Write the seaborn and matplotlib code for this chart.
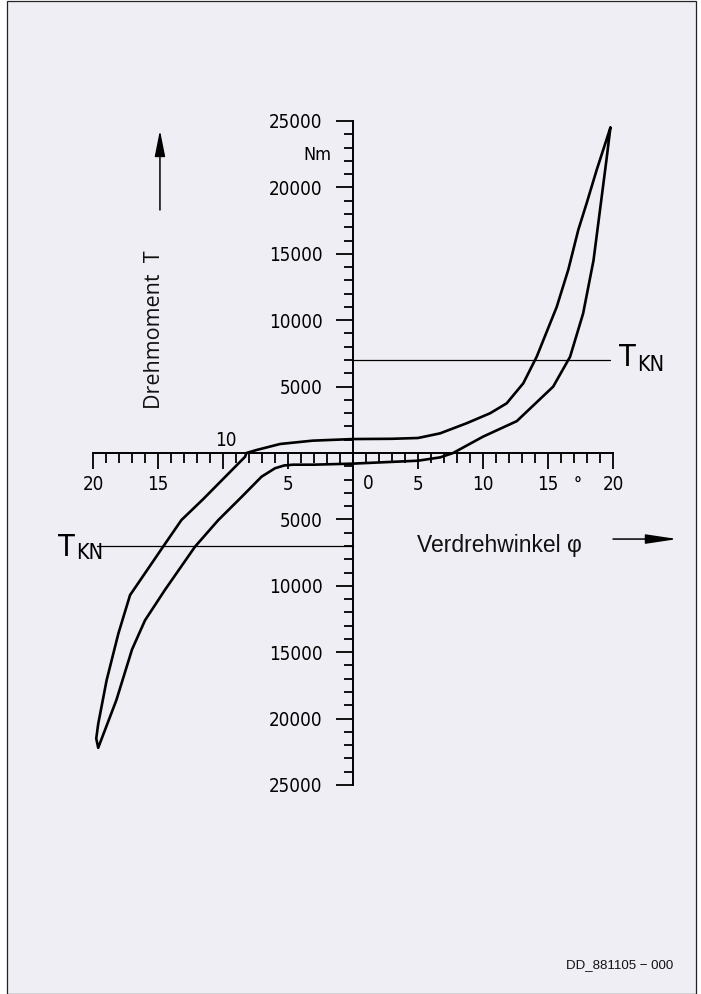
import numpy as np
import matplotlib
matplotlib.use("Agg")
import matplotlib.pyplot as plt
import seaborn as sns
import pandas as pd
from matplotlib.patches import Rectangle
from matplotlib.ticker import FixedLocator

# ---------------- data ----------------
# upper branch: from positive peak down to negative tip (angle in deg, torque in Nm)
upper_angle = [19.8, 18.74, 17.97, 17.33, 16.56, 15.67, 14.13, 13.1, 11.82, 10.54, 8.74, 6.7,
               5.0, 3.0, 0.0, -3.1, -5.6, -7.4, -8.2, -8.3, -11.5, -13.2, -14.5, -17.15,
               -18.05, -18.95, -19.6, -19.75, -19.6]
upper_torque = [24500, 21300, 18800, 16800, 13800, 11000, 7250, 5250, 3740, 2990, 2240, 1480,
                1130, 1070, 1050, 930, 680, 230, 0, -280, -3450, -5050, -6900, -10700,
                -13600, -17100, -20400, -21500, -22200]
# lower branch: from negative tip back up to positive peak
lower_angle = [-19.6, -18.2, -17.0, -16.0, -14.46, -12.15, -10.36, -8.56, -7.03, -6.0, -5.3,
               -4.6, -3.05, 0.0, 5.0, 6.7, 7.7, 10.0, 12.6, 15.4, 16.7, 17.7, 18.5, 19.0, 19.5, 19.8]
lower_torque = [-22200, -18600, -14800, -12600, -10300, -7050, -5050, -3300, -1780, -1150, -940,
                -880, -880, -800, -580, -330, 0, 1230, 2400, 5000, 7250, 10500, 14500, 18300, 22100, 24500]

T_KN = 7000

x_major = [-20, -15, -10, -5, 0, 5, 10, 15, 20]
x_labels = ["20", "15", "", "5", "", "5", "10", "15", "20"]
y_major = [-25000, -20000, -15000, -10000, -5000, 5000, 10000, 15000, 20000, 25000]
y_labels = ["25000", "20000", "15000", "10000", "5000", "5000", "10000", "15000", "20000", "25000"]
x_minor = list(range(-20, 21))
y_minor = list(range(-25000, 25001, 1000))

df = pd.DataFrame({
    "angle": upper_angle + lower_angle,
    "torque": upper_torque + lower_torque,
})

# ---------------- figure ----------------
sns.set_theme(style="white")
plt.rcParams["font.family"] = ["DejaVu Sans"]
plt.rcParams["font.stretch"] = "condensed"

W, H = 701, 994
fig = plt.figure(figsize=(W / 100, H / 100), dpi=100)
fig.patch.set_facecolor("white")
fig.patches.append(Rectangle((6.5 / W, 0.5 / H), (695.5 - 6.5) / W, (993.5 - 0.5) / H,
                             transform=fig.transFigure, facecolor="#EEEEF4",
                             edgecolor="#222222", linewidth=0.9, zorder=-5))

ax = fig.add_axes([0, 0, 1, 1])
ax.set_facecolor("none")
ax.set_zorder(2)

# pixel mapping: x0 at px 353, 13 px / deg ; y0 at px 453, 13.28 px / 1000 Nm
ax.set_xlim(-353 / 13, (W - 353) / 13)
ax.set_ylim((453 - H) / 13.28 * 1000, 453 / 13.28 * 1000)

sns.lineplot(data=df, x="angle", y="torque", sort=False, estimator=None,
             color="black", linewidth=1.9, ax=ax)

# T_KN lines
ax.plot([0, 19.8], [T_KN, T_KN], color="black", linewidth=0.9)
ax.plot([-19.7, 0], [-T_KN, -T_KN], color="black", linewidth=0.9)

# spines as crossing axes
for s in ["top", "right"]:
    ax.spines[s].set_visible(False)
ax.spines["left"].set_position(("data", 0))
ax.spines["bottom"].set_position(("data", 0))
ax.spines["left"].set_bounds(-25000, 25000)
ax.spines["bottom"].set_bounds(-20, 20)
for s in ["left", "bottom"]:
    ax.spines[s].set_linewidth(1.4)
    ax.spines[s].set_color("black")

ax.xaxis.set_major_locator(FixedLocator(x_major))
ax.xaxis.set_minor_locator(FixedLocator(x_minor))
ax.set_xticks(x_major, x_labels)
ax.yaxis.set_major_locator(FixedLocator(y_major))
ax.yaxis.set_minor_locator(FixedLocator(y_minor))
ax.set_yticks(y_major, y_labels)

ax.tick_params(axis="both", which="both", bottom=True, left=True, top=False, right=False)
ax.tick_params(axis="x", which="major", direction="out", length=11.5, width=1.3,
               color="black", pad=4.5, labelsize=13.5, labelcolor="black")
ax.tick_params(axis="x", which="minor", direction="out", length=7, width=1.3, color="black")
ax.tick_params(axis="y", which="major", direction="out", length=12, width=1.3,
               color="black", pad=10, labelsize=13.5, labelcolor="black")
ax.tick_params(axis="y", which="minor", direction="out", length=6.5, width=1.3, color="black")
ax.set_xlabel("")
ax.set_ylabel("")

# extra axis labels
ax.text(1.15, -2260, "0", ha="center", va="center", fontsize=13.5, color="black")
ax.text(-9.75, 940, "10", ha="center", va="center", fontsize=13.5, color="black")
ax.text(17.3, -2500, "°", ha="center", va="center", fontsize=13, color="black",
        fontweight="bold")
ax.text(-2.75, 22440, "Nm", ha="center", va="center", fontsize=13, color="black")

# T_KN labels
ax.text(20.45, 7190, "T", ha="left", va="center", fontsize=22, color="black")
ax.text(21.85, 6630, "KN", ha="left", va="center", fontsize=15.5, color="black")
ax.text(-22.7, -7150, "T", ha="left", va="center", fontsize=22, color="black")
ax.text(-21.3, -7530, "KN", ha="left", va="center", fontsize=15.5, color="black")

# axis titles
ax.text(-15.25, 9260, "Drehmoment  T", rotation=90, ha="center", va="center",
        fontsize=15.5, family=["Open Sans", "DejaVu Sans"], fontstretch="normal",
        color="#111111")
ax.text(4.9, -6930, "Verdrehwinkel φ", ha="left", va="center", fontsize=16.5,
        family=["Liberation Sans", "DejaVu Sans"], fontstretch="normal", color="#111111")

# arrows
ax.annotate("", xy=(-14.85, 24300), xytext=(-14.85, 18300),
            arrowprops=dict(arrowstyle="-|>,head_length=1.0,head_width=0.2",
                            mutation_scale=16, color="black", lw=1.1,
                            shrinkA=0, shrinkB=0))
ax.annotate("", xy=(24.95, -6480), xytext=(20.0, -6480),
            arrowprops=dict(arrowstyle="-|>,head_length=1.2,head_width=0.18",
                            mutation_scale=16, color="black", lw=1.1,
                            shrinkA=0, shrinkB=0))

fig.text(566 / W, 1 - 965 / H, "DD_881105 \u2212 000", ha="left", va="center",
         fontsize=9.5, family=["Liberation Sans", "DejaVu Sans"], fontstretch="normal",
         color="#111111")

fig.savefig("out.png", dpi=100)
